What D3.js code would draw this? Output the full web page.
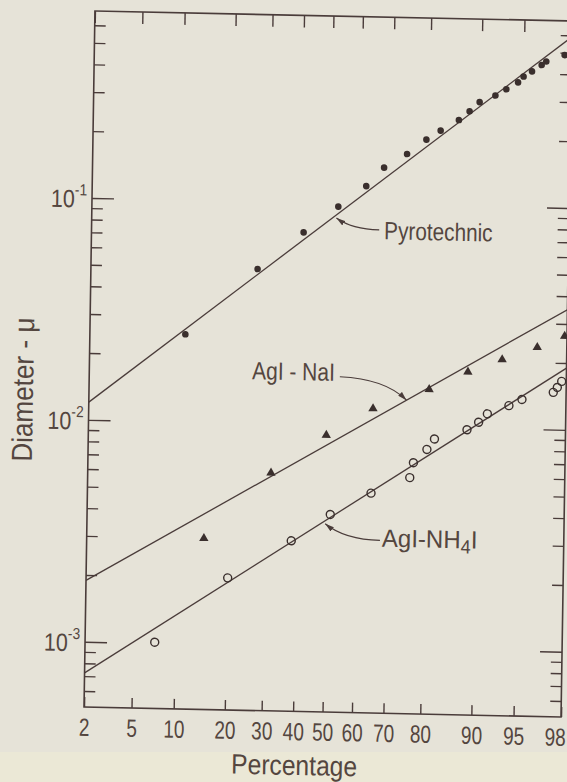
<!DOCTYPE html>
<html>
<head>
<meta charset="utf-8">
<script src="https://cdn.jsdelivr.net/npm/d3@7"></script>
<style>
  html, body { margin: 0; padding: 0; background: #e6e3d8; }
  svg { display: block; }
  text { font-family: "Liberation Sans", Arial, sans-serif; fill: #54463f; }
</style>
</head>
<body>
<div id="chart"></div>
<script>
// percentage axis ticks
const pctTicks = [2, 5, 10, 20, 30, 40, 50, 60, 70, 80, 90, 95, 98];
const yMajor = [1e-3, 1e-2, 1e-1];
const yMajorExp = ["-3", "-2", "-1"];

// Pyrotechnic (filled dots)
const pyroPct = [10.9, 26.8, 41.0, 52.7, 62.0, 67.6, 74.3, 79.3, 82.6, 86.3, 88.2, 89.8, 92.0, 93.3, 94.5, 95.0, 95.7, 96.4, 96.7, 97.7];
const pyroDiam = [0.0248, 0.0496, 0.0733, 0.0964, 0.120, 0.146, 0.169, 0.197, 0.217, 0.243, 0.267, 0.294, 0.316, 0.338, 0.364, 0.387, 0.409, 0.438, 0.455, 0.488];

// AgI-NaI (filled triangles)
const naiPct = [14.8, 31.7, 49.8, 65.3, 80.9, 88.6, 93.3, 96.4, 97.9];
const naiDiam = [0.0030, 0.0060, 0.00898, 0.01196, 0.01476, 0.01784, 0.02045, 0.0234, 0.0264];

// AgI-NH4I (open circles)
const nh4Pct = [7.3, 20.2, 38.5, 51.6, 65.1, 76.4, 77.3, 80.6, 82.3, 88.6, 90.4, 91.6, 94.1, 95.3, 97.4, 97.6, 97.8];
const nh4Diam = [0.00101, 0.00200, 0.00298, 0.00395, 0.00497, 0.00589, 0.00688, 0.00792, 0.00884, 0.0098, 0.01062, 0.01161, 0.0127, 0.01358, 0.01471, 0.0155, 0.01652];

// fitted lines, diameter at 2% and 98%
const linePct = [2, 98];
const pyroLine = [0.01202, 0.589];
const naiLine = [0.00189, 0.0348];
const nh4Line = [0.000724, 0.01897];

// inverse normal cdf (Acklam)
function probit(p) {
  const a = [-3.969683028665376e+01, 2.209460984245205e+02, -2.759285104469687e+02, 1.383577518672690e+02, -3.066479806614716e+01, 2.506628277459239e+00];
  const b = [-5.447609879822406e+01, 1.615858368580409e+02, -1.556989798598866e+02, 6.680131188771972e+01, -1.328068155288572e+01];
  const c = [-7.784894002430293e-03, -3.223964580411365e-01, -2.400758277161838e+00, -2.549732539343734e+00, 4.374664141464968e+00, 2.938163982698783e+00];
  const d = [7.784695709041462e-03, 3.224671290700398e-01, 2.445134137142996e+00, 3.754408661907416e+00];
  const pl = 0.02425;
  let q, r;
  if (p < pl) {
    q = Math.sqrt(-2 * Math.log(p));
    return (((((c[0]*q+c[1])*q+c[2])*q+c[3])*q+c[4])*q+c[5]) / ((((d[0]*q+d[1])*q+d[2])*q+d[3])*q+1);
  }
  if (p > 1 - pl) {
    q = Math.sqrt(-2 * Math.log(1 - p));
    return -(((((c[0]*q+c[1])*q+c[2])*q+c[3])*q+c[4])*q+c[5]) / ((((d[0]*q+d[1])*q+d[2])*q+d[3])*q+1);
  }
  q = p - 0.5; r = q * q;
  return (((((a[0]*r+a[1])*r+a[2])*r+a[3])*r+a[4])*r+a[5])*q / (((((b[0]*r+b[1])*r+b[2])*r+b[3])*r+b[4])*r+1);
}

const W = 567, H = 782;
const fr = { left: 89.5, right: 566.5, top: 16, bottom: 712 };
const ink = "#4a3c3a";

const z = d3.scaleLinear().domain([probit(0.02), probit(0.98)]).range([fr.left, fr.right]);
const x = p => z(probit(p / 100));
const y = d3.scaleLog().domain([5.08e-4, 0.696]).range([fr.bottom, fr.top]);

// the lettering on the original is narrow: squeeze text horizontally around its anchor
function squeeze(sel, k) {
  sel.attr("transform", function() {
    const tx = +this.getAttribute("x") || 0, ty = +this.getAttribute("y") || 0;
    return `translate(${tx},${ty}) scale(${k},1) translate(${-tx},${-ty})`;
  });
}

const svg = d3.select("#chart").append("svg")
  .attr("width", W).attr("height", H);

svg.append("rect").attr("width", W).attr("height", H).attr("fill", "#e6e3d8");
svg.append("rect").attr("y", 752).attr("width", W).attr("height", H - 752).attr("fill", "#ebe8d6");

const defs = svg.append("defs");
defs.append("clipPath").attr("id", "frame")
  .append("rect").attr("x", fr.left).attr("y", fr.top).attr("width", fr.right - fr.left).attr("height", fr.bottom - fr.top);
defs.append("marker").attr("id", "arrow")
  .attr("viewBox", "0 0 10 6").attr("refX", 10).attr("refY", 3)
  .attr("markerWidth", 9).attr("markerHeight", 5.4).attr("markerUnits", "userSpaceOnUse")
  .attr("orient", "auto-start-reverse")
  .append("path").attr("d", "M0,0L10,3L0,6Z").attr("fill", ink);

// the scanned page is slightly skewed
const g = svg.append("g")
  .attr("transform", "translate(328,363) matrix(1,0.021,-0.0157,1,0,0) translate(-328,-363)");

// minor y ticks
const yMinor = y.ticks().filter(v => Math.abs(Math.log10(v) - Math.round(Math.log10(v))) > 1e-6);

function styleAxis(sel) {
  sel.select(".domain").remove();
  sel.selectAll(".tick line").attr("stroke", ink).attr("stroke-width", 1.4);
}

g.append("g").attr("transform", `translate(${fr.left},0)`)
  .call(d3.axisLeft(y).tickValues(yMinor).tickSizeInner(-11).tickSizeOuter(0).tickFormat(""))
  .call(styleAxis);
g.append("g").attr("transform", `translate(${fr.right},0)`)
  .call(d3.axisRight(y).tickValues(yMinor).tickSizeInner(-11).tickSizeOuter(0).tickFormat(""))
  .call(styleAxis);
g.append("g").attr("transform", `translate(${fr.right},0)`)
  .call(d3.axisRight(y).tickValues(yMajor).tickSizeInner(-22).tickSizeOuter(0).tickFormat(""))
  .call(styleAxis);

const yLeft = g.append("g").attr("transform", `translate(${fr.left},0)`)
  .call(d3.axisLeft(y).tickValues(yMajor).tickSizeInner(-22).tickSizeOuter(0).tickFormat(""))
  .call(styleAxis);
yLeft.selectAll(".tick").each(function(d, i) {
  const t = d3.select(this).append("text")
    .attr("x", -5).attr("y", 9.2)
    .attr("text-anchor", "end")
    .attr("font-size", 25)
    .attr("fill", "#54463f");
  t.append("tspan").text("10");
  t.append("tspan").attr("font-size", 16).attr("dy", -12.2).text(yMajorExp[i]);
  squeeze(t, 0.86);
});

// percentage axis
const zTicks = pctTicks.map(p => probit(p / 100));
const xBottom = g.append("g").attr("transform", `translate(0,${fr.bottom})`)
  .call(d3.axisBottom(z).tickValues(zTicks).tickSizeInner(-10).tickSizeOuter(0).tickPadding(11)
    .tickFormat((d, i) => pctTicks[i]))
  .call(styleAxis);
xBottom.attr("font-family", null);
xBottom.selectAll(".tick text")
  .attr("font-size", 25).attr("fill", "#54463f")
  .attr("x", (d, i) => i === pctTicks.length - 1 ? -6 : 0)
  .call(squeeze, 0.76);
g.append("g").attr("transform", `translate(0,${fr.top})`)
  .call(d3.axisTop(z).tickValues(zTicks).tickSizeInner(-12).tickSizeOuter(0).tickFormat(""))
  .call(styleAxis);

// frame
g.append("rect")
  .attr("x", fr.left).attr("y", fr.top).attr("width", fr.right - fr.left).attr("height", fr.bottom - fr.top)
  .attr("fill", "none").attr("stroke", ink).attr("stroke-width", 1.6);

// fitted lines
const plot = g.append("g").attr("clip-path", "url(#frame)");
const line = d3.line().x(d => x(d[0])).y(d => y(d[1]));
[pyroLine, naiLine, nh4Line].forEach(ends => {
  plot.append("path")
    .datum(linePct.map((p, i) => [p, ends[i]]))
    .attr("d", line)
    .attr("fill", "none").attr("stroke", ink).attr("stroke-width", 1.3);
});

// points
plot.selectAll(".pyro").data(d3.zip(pyroPct, pyroDiam)).join("circle")
  .attr("class", "pyro")
  .attr("cx", d => x(d[0])).attr("cy", d => y(d[1])).attr("r", 3.3)
  .attr("fill", "#3a2f2d");

plot.selectAll(".nai").data(d3.zip(naiPct, naiDiam)).join("path")
  .attr("class", "nai")
  .attr("transform", d => `translate(${x(d[0])},${y(d[1])})`)
  .attr("d", d3.symbol(d3.symbolTriangle, 38))
  .attr("fill", "#3a2f2d");

plot.selectAll(".nh4").data(d3.zip(nh4Pct, nh4Diam)).join("circle")
  .attr("class", "nh4")
  .attr("cx", d => x(d[0])).attr("cy", d => y(d[1])).attr("r", 4)
  .attr("fill", "none").attr("stroke", "#3a2f2d").attr("stroke-width", 1.4);

// leader labels: anchored on the fitted line at a percentage
function lineAt(ends, p) {
  const t = (probit(p / 100) - probit(0.02)) / (probit(0.98) - probit(0.02));
  return Math.pow(10, Math.log10(ends[0]) + t * (Math.log10(ends[1]) - Math.log10(ends[0])));
}

function leader(ends, p, off, path, tx, ty, anchor) {
  const px = x(p), py = y(lineAt(ends, p)) + off;
  g.append("path")
    .attr("d", `M${px},${py}` + path(px, py))
    .attr("fill", "none").attr("stroke", ink).attr("stroke-width", 1.2)
    .attr("marker-start", "url(#arrow)");
  return g.append("text")
    .attr("x", px + tx).attr("y", py + ty)
    .attr("text-anchor", anchor)
    .attr("font-size", 25);
}

leader(pyroLine, 52.1, 3, (px, py) => `Q${px + 16},${py + 11} ${px + 43},${py + 11}`, 48, 20.4, "start")
  .text("Pyrotechnic")
  .call(squeeze, 0.83);

leader(naiLine, 75.2, 0, (px, py) => `Q${px - 22},${py - 21} ${px - 67},${py - 22}`, -72, -17.7, "end")
  .text("AgI - NaI")
  .call(squeeze, 0.84);

const nh4Text = leader(nh4Line, 49.9, 3, (px, py) => `Q${px + 20},${py + 15.5} ${px + 55},${py + 15.5}`, 57, 21.8, "start");
nh4Text.append("tspan").text("AgI-NH");
nh4Text.append("tspan").attr("font-size", 19).attr("dy", 5).text("4");
nh4Text.append("tspan").attr("dy", -5).text("I");
nh4Text.call(squeeze, 0.96);

// axis titles
g.append("text")
  .attr("x", 300.5).attr("y", 775.5)
  .attr("text-anchor", "middle").attr("font-size", 28)
  .text("Percentage")
  .call(squeeze, 0.88);

g.append("text")
  .attr("transform", "translate(33.5,396) rotate(-90) scale(0.9,1)")
  .attr("text-anchor", "middle").attr("font-size", 29)
  .text("Diameter - \u03bc");
</script>
</body>
</html>
